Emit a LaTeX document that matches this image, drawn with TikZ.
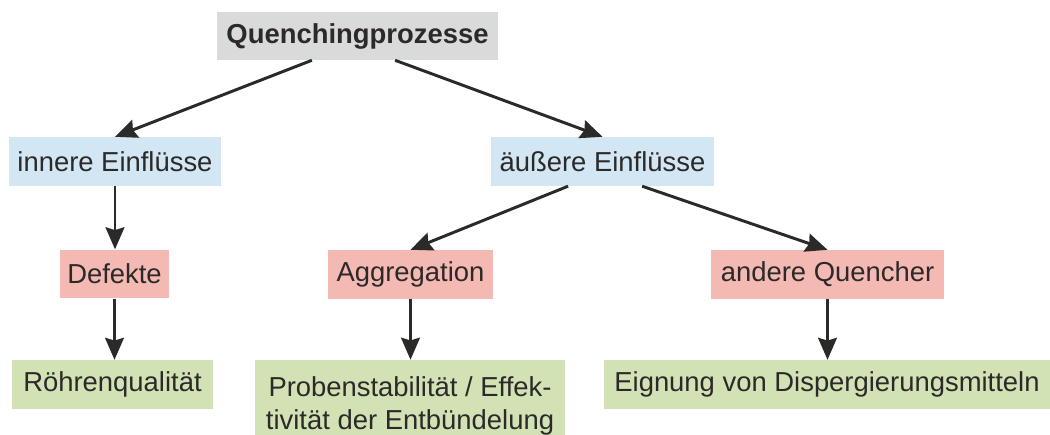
\documentclass[tikz,border=0pt]{standalone}
\usepackage{fontspec}
\setmainfont{Liberation Sans}
\usepackage{tikz}
\usetikzlibrary{arrows.meta,positioning}

\definecolor{inkdark}{HTML}{2B2A29}
\definecolor{boxgray}{HTML}{D9DADA}
\definecolor{boxblue}{HTML}{D2E6F3}
\definecolor{boxred}{HTML}{F5B9B3}
\definecolor{boxgreen}{HTML}{D3E2B5}

\begin{document}
\begin{tikzpicture}[x=0.025cm,y=-0.025cm,
    box/.style={inner sep=0pt,minimum height=1.22cm,text=inkdark,
      font=\fontsize{19.5}{23.4}\selectfont},
    link/.style={draw=inkdark,line width=2.1pt,
      -{Stealth[length=0.55cm,width=0.47cm,inset=0.07cm]}}]
  \useasboundingbox (0,0) rectangle (1050,434);
  % top level
  \node[box,fill=boxgray,minimum width=7.025cm,minimum height=1.2cm,font=\fontsize{19.5}{23.4}\selectfont\bfseries] (quench) at (357.5,36) {Quenchingprozesse};
  % influences
  \node[box,fill=boxblue,minimum width=5.3cm] (inner) at (115,161.5) {innere Einflüsse};
  \node[box,fill=boxblue,minimum width=5.575cm] (outer) at (602.5,161.5) {äußere Einflüsse};
  % causes
  \node[box,fill=boxred,minimum width=2.725cm] (defects) at (114.5,274) {Defekte};
  \node[box,fill=boxred,minimum width=4.125cm] (aggreg) at (410.5,274.5) {Aggregation};
  \node[box,fill=boxred,minimum width=5.825cm] (others) at (827.5,274.5) {andere Quencher};
  % consequences
  \node[box,fill=boxgreen,minimum width=5.025cm] (tubes) at (112.5,384.5) {Röhrenqualität};
  \node[box,fill=boxgreen,minimum width=7.75cm,minimum height=2.3cm,align=center] (stable) at (410,406) {Probenstabilität / Effek-\\tivität der Entbündelung};
  \node[box,fill=boxgreen,minimum width=11.15cm] (disperse) at (827,384.5) {Eignung von Dispergierungsmitteln};

  \draw[link] ([xshift=-1.14cm]quench.south) -- (inner.north);
  \draw[link] ([xshift=0.94cm]quench.south) -- (outer.north);
  \draw[link] (inner.south) -- (inner.south |- defects.north);
  \draw[link] ([xshift=-0.86cm]outer.south) -- (aggreg.north);
  \draw[link] ([xshift=0.99cm]outer.south) -- (others.north);
  \draw[link] (defects.south) -- (defects.south |- tubes.north);
  \draw[link] (aggreg.south) -- (aggreg.south |- stable.north);
  \draw[link] (others.south) -- (others.south |- disperse.north);
\end{tikzpicture}
\end{document}
